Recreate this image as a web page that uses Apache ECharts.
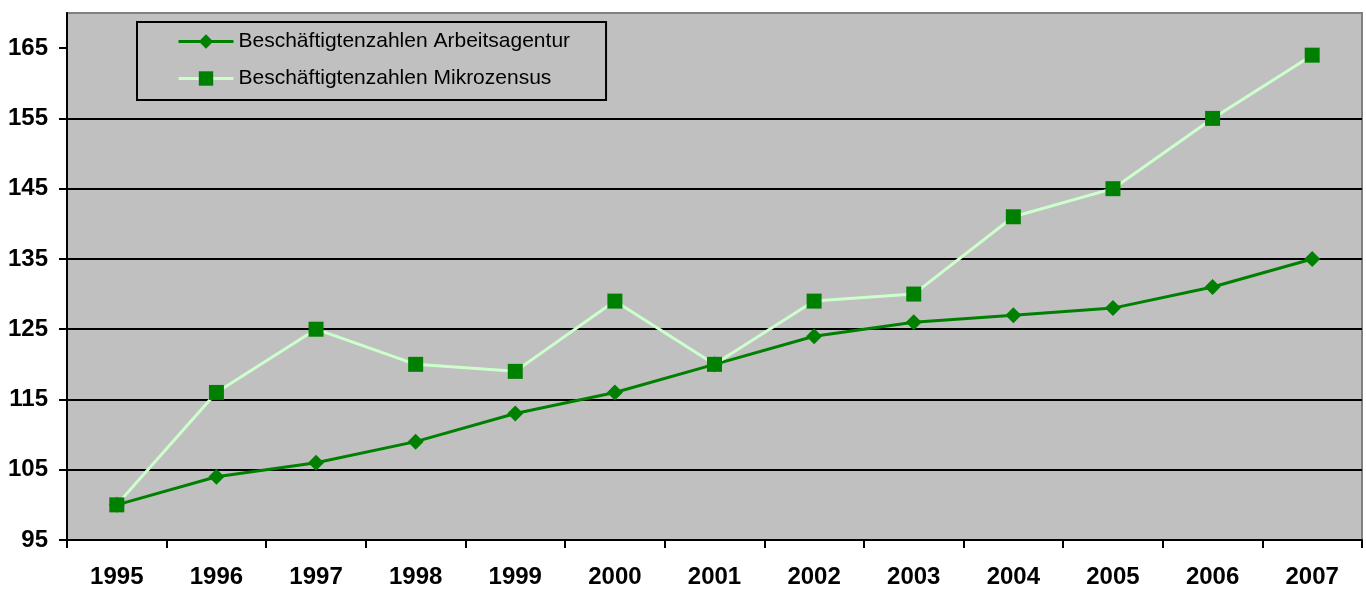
<!DOCTYPE html>
<html>
<head>
<meta charset="utf-8">
<script src="https://cdn.jsdelivr.net/npm/echarts@6/dist/echarts.min.js"></script>
<style>
html,body{margin:0;padding:0;background:#fff;}
#chart{width:1366px;height:589px;}
</style>
</head>
<body>
<div id="chart"></div>
<script>
const years = ['1995','1996','1997','1998','1999','2000','2001','2002','2003','2004','2005','2006','2007'];
const arbeitsagentur = [100,104,106,109,113,116,120,124,126,127,128,131,135];
const mikrozensus = [100,116,125,120,119,129,120,129,130,141,145,155,164];
const seriesNames = ['Beschäftigtenzahlen Arbeitsagentur','Beschäftigtenzahlen Mikrozensus'];
const yTicks = [95,105,115,125,135,145,155,165];

const font = "'Liberation Sans', Arial, sans-serif";
const chart = echarts.init(document.getElementById('chart'), null, {renderer:'canvas'});
chart.setOption({
  animation:false,
  backgroundColor:'#ffffff',
  grid:{left:67,right:4,top:13,bottom:48,show:true,backgroundColor:'#C0C0C0',borderColor:'#808080',borderWidth:2},
  legend:{
    orient:'vertical',left:137,top:22,
    padding:[9,36,11,40],
    itemGap:16,itemWidth:55,itemHeight:18,
    backgroundColor:'#C0C0C0',borderColor:'#000',borderWidth:2,
    textStyle:{fontFamily:font,fontSize:21,color:'#000'},
    lineStyle:{width:3},
    data:seriesNames
  },
  xAxis:{
    type:'category',data:years,boundaryGap:true,
    axisLine:{lineStyle:{color:'#000',width:2}},
    axisTick:{show:true,length:8,lineStyle:{color:'#000',width:2}},
    axisLabel:{fontFamily:font,fontSize:24,fontWeight:'bold',color:'#000',margin:25},
    splitLine:{show:false}
  },
  yAxis:{
    type:'value',min:95,max:170,interval:10,
    axisLine:{show:true,lineStyle:{color:'#000',width:2}},
    axisTick:{show:true,length:8,lineStyle:{color:'#000',width:2},customValues:yTicks},
    axisLabel:{fontFamily:font,fontSize:24,fontWeight:'bold',color:'#000',margin:19,customValues:yTicks},
    splitLine:{show:true,showMaxLine:false,lineStyle:{color:'#000',width:2}}
  },
  series:[
    {name:seriesNames[0],type:'line',data:arbeitsagentur,symbol:'diamond',symbolSize:16,
     lineStyle:{color:'#008000',width:3},itemStyle:{color:'#008000'}},
    {name:seriesNames[1],type:'line',data:mikrozensus,symbol:'rect',symbolSize:15,
     lineStyle:{color:'#CCFFCC',width:3},itemStyle:{color:'#008000'}}
  ]
});
</script>
</body>
</html>
